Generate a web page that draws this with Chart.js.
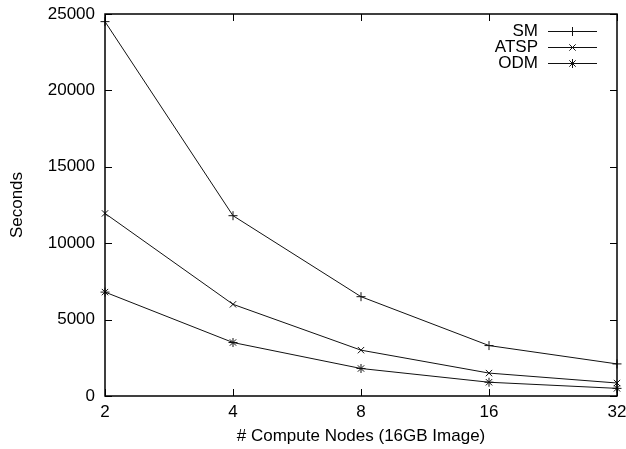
<!DOCTYPE html>
<html>
<head>
<meta charset="utf-8">
<script src="https://cdn.jsdelivr.net/npm/chart.js@4.4.1/dist/chart.umd.min.js"></script>
<style>
  html, body { margin: 0; padding: 0; background: #fff; }
  #wrap { width: 626px; height: 449px; }
</style>
</head>
<body>
<div id="wrap"><canvas id="nodesChart" width="626" height="449"></canvas></div>
<script>
// data
var nodes = ['2', '4', '8', '16', '32'];
var smTimes = [24500, 11800, 6500, 3300, 2100];
var atspTimes = [11950, 6000, 3000, 1500, 850];
var odmTimes = [6800, 3500, 1800, 900, 500];
var yTicks = [0, 5000, 10000, 15000, 20000, 25000];

var FONT = '"Liberation Sans", Arial, Helvetica, sans-serif';
var FSIZE = 17;
Chart.defaults.font.family = FONT;
Chart.defaults.color = '#000';

function series(label, data, style) {
    return {
        label: label,
        data: data,
        borderColor: '#111',
        borderWidth: 1,
        pointStyle: style,
        pointRadius: 4.5,
        pointBorderColor: '#111',
        pointBorderWidth: 1,
        pointBackgroundColor: 'transparent',
        tension: 0,
        fill: false
    };
}

// gnuplot look: box frame, inward ticks mirrored, key with text then sample
var gnuplotFrame = {
    id: 'gnuplotFrame',
    afterDatasetsDraw: function (chart) {
        var ctx = chart.ctx, a = chart.chartArea;
        var xs = chart.scales.x, ys = chart.scales.y;
        var len = 7;
        ctx.save();
        ctx.strokeStyle = '#000';
        ctx.lineWidth = 1;
        ctx.beginPath();
        yTicks.forEach(function (v) {
            var y = Math.round(ys.getPixelForValue(v)) + 0.5;
            ctx.moveTo(a.left, y); ctx.lineTo(a.left + len, y);
            ctx.moveTo(a.right, y); ctx.lineTo(a.right - len, y);
        });
        nodes.forEach(function (n, i) {
            var x = Math.round(xs.getPixelForValue(i)) + 0.5;
            ctx.moveTo(x, a.bottom); ctx.lineTo(x, a.bottom - len);
            ctx.moveTo(x, a.top); ctx.lineTo(x, a.top + len);
        });
        ctx.stroke();
        ctx.lineWidth = 1.5;
        ctx.strokeRect(a.left, a.top, a.right - a.left, a.bottom - a.top);

        // key
        ctx.font = FSIZE + 'px ' + FONT;
        ctx.textAlign = 'right';
        ctx.textBaseline = 'middle';
        ctx.fillStyle = '#000';
        var textRight = a.right - 79, x0 = a.right - 69, x1 = a.right - 20;
        chart.data.datasets.forEach(function (ds, i) {
            var y = a.top + 17 + i * 16;
            ctx.fillText(ds.label, textRight, y);
            ctx.lineWidth = 1;
            ctx.strokeStyle = '#111';
            ctx.beginPath();
            ctx.moveTo(x0, y + 0.5); ctx.lineTo(x1, y + 0.5);
            ctx.stroke();
            Chart.helpers.drawPoint(ctx, {pointStyle: ds.pointStyle, radius: 4.5, borderWidth: 1}, (x0 + x1) / 2, y + 0.5);
        });
        ctx.restore();
    }
};

var ctx = document.getElementById('nodesChart').getContext('2d');
var nodesChart = new Chart(ctx, {
    type: 'line',
    data: {
        labels: nodes,
        datasets: [
            series('SM', smTimes, 'cross'),
            series('ATSP', atspTimes, 'crossRot'),
            series('ODM', odmTimes, 'star')
        ]
    },
    options: {
        responsive: false,
        animation: false,
        layout: { padding: { left: 0, right: 9, top: 14, bottom: 0 } },
        plugins: {
            legend: { display: false },
            tooltip: { enabled: false }
        },
        scales: {
            x: {
                type: 'category',
                offset: false,
                grid: { display: false, drawTicks: false },
                border: { display: false },
                ticks: { font: { size: FSIZE }, padding: 6, maxRotation: 0, autoSkip: false },
                title: {
                    display: true,
                    text: '# Compute Nodes (16GB Image)',
                    font: { size: FSIZE },
                    padding: { top: 0, bottom: 2 }
                },
                afterFit: function (s) {
                    s.height = 53;
                    s.paddingLeft = 0;
                    s.paddingRight = 0;
                }
            },
            y: {
                min: 0,
                max: 25000,
                afterBuildTicks: function (s) {
                    s.ticks = yTicks.map(function (v) { return { value: v }; });
                },
                grid: { display: false, drawTicks: false },
                border: { display: false },
                ticks: {
                    font: { size: FSIZE },
                    padding: 10,
                    callback: function (v) { return String(v); }
                },
                title: {
                    display: true,
                    text: 'Seconds',
                    font: { size: FSIZE },
                    padding: { top: 7, bottom: 0 }
                },
                afterFit: function (s) {
                    s.width = 105;
                    s.paddingTop = 0;
                    s.paddingBottom = 0;
                }
            }
        }
    },
    plugins: [gnuplotFrame]
});
</script>
</body>
</html>
